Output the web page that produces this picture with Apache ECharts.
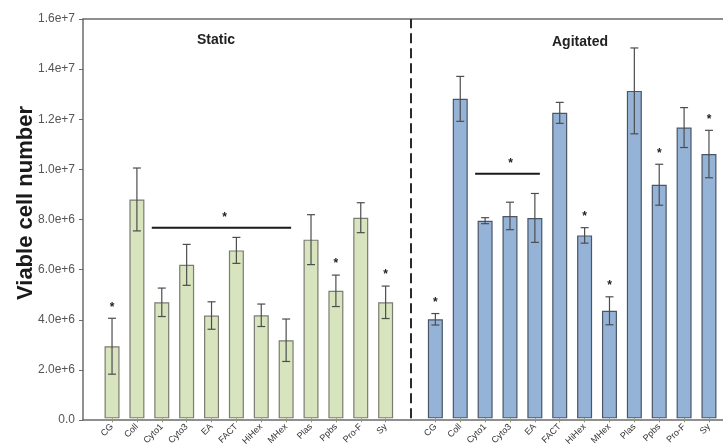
<!DOCTYPE html>
<html>
<head>
<meta charset="utf-8">
<script src="https://cdn.jsdelivr.net/npm/echarts@6/dist/echarts.min.js"></script>
<style>
html,body{margin:0;padding:0;background:#fff;}
#chart{width:723px;height:448px;}
</style>
</head>
<body>
<div id="chart"></div>
<script>
// ---- data ----
const groupLabels = ['CG','Coll','Cyto1','Cyto3','EA','FACT','HiHex','MHex','Plas','Ppbs','Pro-F','Sy'];
const staticValues   = [2.89e6, 8.77e6, 4.65e6, 6.15e6, 4.12e6, 6.73e6, 4.13e6, 3.13e6, 7.16e6, 5.11e6, 8.04e6, 4.65e6];
const staticErrors   = [1.12e6, 1.26e6, 0.57e6, 0.82e6, 0.55e6, 0.52e6, 0.45e6, 0.85e6, 1.00e6, 0.63e6, 0.60e6, 0.65e6];
const staticSig      = [1,0,0,0,0,0,0,0,0,1,0,1];
const agitatedValues = [3.97e6, 12.80e6, 7.92e6, 8.11e6, 8.03e6, 12.24e6, 7.33e6, 4.31e6, 13.12e6, 9.36e6, 11.65e6, 10.59e6];
const agitatedErrors = [0.23e6, 0.90e6, 0.12e6, 0.55e6, 0.98e6, 0.42e6, 0.31e6, 0.56e6, 1.72e6, 0.82e6, 0.80e6, 0.95e6];
const agitatedSig    = [1,0,0,0,0,0,1,1,0,1,0,1];
// significance brackets: [first category, last category, height]
const staticBracket   = ['Cyto1', 'MHex', 7.64e6];
const agitatedBracket = ['Cyto1', 'EA', 9.8e6];
const yTicks = [0, 2e6, 4e6, 6e6, 8e6, 1e7, 1.2e7, 1.4e7, 1.6e7];
const groupTitles = ['Static', 'Agitated'];
const yTitle = 'Viable cell number';

// ---- build ----
const nS = groupLabels.length;
const offsetA = nS + 1; // one empty slot between the groups
const categories = groupLabels.concat([''], groupLabels);

const staticBarData = staticValues.map((v, i) => [i, v]);
const agitatedBarData = agitatedValues.map((v, i) => [i + offsetA, v]);
const errData = staticValues.map((v, i) => [i, v - staticErrors[i], v + staticErrors[i], staticSig[i]])
  .concat(agitatedValues.map((v, i) => [i + offsetA, v - agitatedErrors[i], v + agitatedErrors[i], agitatedSig[i]]));
const bracketData = [
  [groupLabels.indexOf(staticBracket[0]), groupLabels.indexOf(staticBracket[1]), staticBracket[2]],
  [groupLabels.indexOf(agitatedBracket[0]) + offsetA, groupLabels.indexOf(agitatedBracket[1]) + offsetA, agitatedBracket[2]]
];

const FONT = 'Liberation Sans, Arial, sans-serif';
const AXIS = '#6b6b6b';

const chart = echarts.init(document.getElementById('chart'), null, {renderer: 'canvas'});

const option = {
  animation: false,
  backgroundColor: '#ffffff',
  textStyle: {fontFamily: FONT},
  grid: [
    {left: 83, top: 19, right: 0, bottom: 28, containLabel: false},
    {left: 99.6, top: 19, right: 1.6, bottom: 28, containLabel: false}
  ],
  xAxis: [
    {gridIndex: 0, type: 'value', min: 0, max: 1, position: 'bottom',
     axisLine: {show: true, lineStyle: {color: AXIS, width: 1.5}},
     axisTick: {show: false}, axisLabel: {show: false}, splitLine: {show: false}},
    {gridIndex: 0, type: 'value', min: 0, max: 1, position: 'top',
     axisLine: {show: true, lineStyle: {color: AXIS, width: 1.5}},
     axisTick: {show: false}, axisLabel: {show: false}, splitLine: {show: false}},
    {gridIndex: 1, type: 'category', data: categories, boundaryGap: true,
     axisLine: {show: false},
     axisTick: {show: true, alignWithLabel: true, length: 4, lineStyle: {color: '#8a9a6a', width: 1},
                interval: (idx, val) => val !== ''},
     axisLabel: {interval: 0, rotate: 45, margin: 7, fontSize: 9, color: '#333', fontFamily: FONT},
     splitLine: {show: false}}
  ],
  yAxis: [
    {gridIndex: 0, type: 'value', min: 0, max: 1.6e7, interval: 2e6,
     axisLine: {show: true, lineStyle: {color: AXIS, width: 1.5}},
     axisTick: {show: true, length: 4, lineStyle: {color: AXIS}},
     axisLabel: {margin: 8, fontSize: 12, color: '#555', fontFamily: FONT,
                 formatter: v => (yTicks.indexOf(v) >= 0 ? (v === 0 ? '0.0' : v.toExponential(1)) : '')},
     splitLine: {show: false}},
    {gridIndex: 1, type: 'value', min: 0, max: 1.6e7, interval: 2e6, show: false,
     splitLine: {show: false}}
  ],
  graphic: [
    {type: 'text', left: 197, top: 33, style: {text: groupTitles[0], font: 'bold 14px ' + FONT, fill: '#222'}},
    {type: 'text', left: 552, top: 35, style: {text: groupTitles[1], font: 'bold 14px ' + FONT, fill: '#222'}},
    {type: 'text', x: 26, y: 203, rotation: Math.PI / 2,
     style: {text: yTitle, font: 'bold 22px ' + FONT, fill: '#1a1a1a', align: 'center', verticalAlign: 'middle'}}
  ],
  series: [
    {type: 'bar', name: groupTitles[0], xAxisIndex: 2, yAxisIndex: 1, data: staticBarData,
     barWidth: 15, barGap: '-100%',
     itemStyle: {color: '#d7e4bd', borderColor: '#7b7b72', borderWidth: 1.2},
     markLine: {silent: true, symbol: 'none', label: {show: false},
                lineStyle: {type: [10, 5], color: '#2a2a2a', width: 2},
                data: [{xAxis: nS}]}},
    {type: 'bar', name: groupTitles[1], xAxisIndex: 2, yAxisIndex: 1, data: agitatedBarData,
     barWidth: 15, barGap: '-100%',
     itemStyle: {color: '#95b3d7', borderColor: '#4a5566', borderWidth: 1.2}},
    {type: 'custom', xAxisIndex: 2, yAxisIndex: 1, data: errData, z: 5,
     renderItem: function (params, api) {
       const x = api.value(0);
       const lo = api.coord([x, api.value(1)]);
       const hi = api.coord([x, api.value(2)]);
       const cap = 4;
       const st = {stroke: '#4d4d4d', lineWidth: 1.2};
       const children = [
         {type: 'line', shape: {x1: hi[0], y1: hi[1], x2: lo[0], y2: lo[1]}, style: st},
         {type: 'line', shape: {x1: hi[0] - cap, y1: hi[1], x2: hi[0] + cap, y2: hi[1]}, style: st},
         {type: 'line', shape: {x1: lo[0] - cap, y1: lo[1], x2: lo[0] + cap, y2: lo[1]}, style: st}
       ];
       if (api.value(3)) {
         children.push({type: 'text', x: hi[0], y: hi[1] - 11,
           style: {text: '*', font: 'bold 12px ' + FONT, fill: '#222', align: 'center', verticalAlign: 'middle'}});
       }
       return {type: 'group', children: children};
     }},
    {type: 'custom', xAxisIndex: 2, yAxisIndex: 1, data: bracketData, z: 5,
     renderItem: function (params, api) {
       const a = api.coord([api.value(0), api.value(2)]);
       const b = api.coord([api.value(1), api.value(2)]);
       const x1 = a[0] - 10, x2 = b[0] + 5;
       return {type: 'group', children: [
         {type: 'line', shape: {x1: x1, y1: a[1], x2: x2, y2: a[1]}, style: {stroke: '#1a1a1a', lineWidth: 2}},
         {type: 'text', x: (x1 + x2) / 2 + 3, y: a[1] - 10,
          style: {text: '*', font: 'bold 12px ' + FONT, fill: '#222', align: 'center', verticalAlign: 'middle'}}
       ]};
     }}
  ]
};
chart.setOption(option);
</script>
</body>
</html>
